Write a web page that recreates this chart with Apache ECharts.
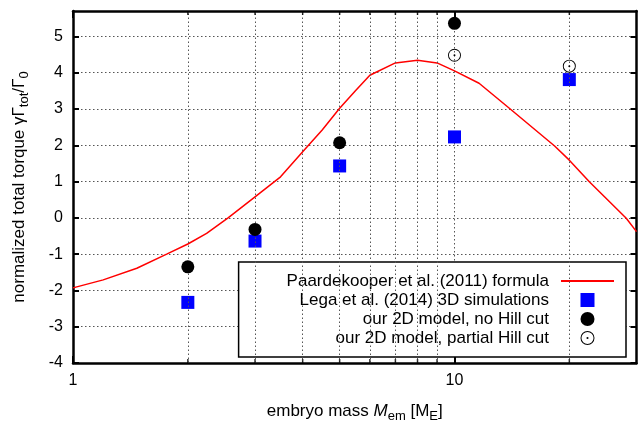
<!DOCTYPE html>
<html>
<head>
<meta charset="utf-8">
<script src="https://cdn.jsdelivr.net/npm/echarts@6/dist/echarts.min.js"></script>
<style>
html,body{margin:0;padding:0;background:#fff;}
#chart{width:638px;height:423px;}
</style>
</head>
<body>
<div id="chart"></div>
<script>
// Paardekooper et al. (2011) formula curve
const curveX = [1, 1.2, 1.47, 1.76, 2, 2.24, 2.55, 3, 3.5, 4, 4.5, 5, 5.5, 6, 7, 8, 9, 10, 11.6, 14, 18.3, 20, 22.6, 28.2, 30];
const curveY = [-1.93, -1.71, -1.39, -1.0, -0.72, -0.43, 0.0, 0.58, 1.13, 1.82, 2.42, 3.02, 3.5, 3.93, 4.27, 4.34, 4.27, 4.05, 3.71, 3.0, 1.98, 1.59, 0.99, -0.01, -0.38];
// Lega et al. (2014) 3D simulations
const legaX = [2, 3, 5, 10, 20];
const legaY = [-2.33, -0.64, 1.43, 2.23, 3.81];
// our 2D model, no Hill cut
const noHillX = [2, 3, 5, 10];
const noHillY = [-1.35, -0.32, 2.07, 5.36];
// our 2D model, partial Hill cut
const partialX = [10, 20];
const partialY = [4.48, 4.18];
// axis ticks / labels
const xMinorValues = [2, 3, 4, 5, 6, 7, 8, 9, 20];
const xMajorValues = [1, 10];
const xLabelValues = [1, 10];
const yTickValues = [-4, -3, -2, -1, 0, 1, 2, 3, 4, 5];
const yMin = -4, yMax = 5.7, xMin = 1, xMax = 30;
const seriesNames = ['Paardekooper et al. (2011) formula', 'Lega et al. (2014) 3D simulations', 'our 2D model, no Hill cut', 'our 2D model, partial Hill cut'];

const zip = (xs, ys) => xs.map((x, i) => [x, ys[i]]);
const FONT = 'Liberation Sans, Arial, Helvetica, sans-serif';
const gridStyle = { color: '#555', width: 1, type: [1.5, 2.5] };
const gridLine = { show: true, lineStyle: gridStyle };
const frameLine = { show: true, onZero: false, lineStyle: { color: '#000', width: 2.5 } };
const ringPath = 'path://M10,0A10,10,0,1,1,-10,0A10,10,0,1,1,10,0ZM8.6,0A8.6,8.6,0,1,0,-8.6,0A8.6,8.6,0,1,0,8.6,0ZM1.5,0A1.5,1.5,0,1,1,-1.5,0A1.5,1.5,0,1,1,1.5,0Z';
const squarePath = 'path://M0,0H10V10H0Z';
const nameRich = {
  a: { fontSize: 17, lineHeight: 24, color: '#000', fontFamily: FONT },
  i: { fontSize: 17, lineHeight: 24, fontStyle: 'italic', color: '#000', fontFamily: FONT },
  s: { fontSize: 13, lineHeight: 13, verticalAlign: 'bottom', color: '#000', fontFamily: FONT }
};

const chart = echarts.init(document.getElementById('chart'));
chart.setOption({
  animation: false,
  backgroundColor: '#fff',
  textStyle: { fontFamily: FONT },
  grid: { left: 73, right: 1.5, top: 11, bottom: 60, containLabel: false, outerBoundsMode: 'none' },
  xAxis: [{
    type: 'log', logBase: 10, min: xMin, max: xMax, position: 'bottom',
    axisLine: frameLine,
    axisTick: { show: true, inside: true, length: 7, lineStyle: { color: '#000', width: 2 }, customValues: xMajorValues },
    axisLabel: { show: true, customValues: xLabelValues, color: '#000', fontSize: 16, fontFamily: FONT, margin: 10 },
    splitLine: gridLine, minorTick: { show: false }, minorSplitLine: { show: false },
    name: '{a|embryo mass }{i|M}{s|em}{a| [M}{s|E}{a|]}',
    nameLocation: 'middle', nameGap: 36,
    nameTextStyle: { color: '#000', fontFamily: FONT, rich: nameRich }
  }, {
    type: 'log', logBase: 10, min: xMin, max: xMax, position: 'top',
    axisLine: frameLine,
    axisTick: { show: true, inside: true, length: 7, lineStyle: { color: '#000', width: 2 }, customValues: xMajorValues },
    axisLabel: { show: false }, splitLine: { show: false }
  }],
  yAxis: [{
    type: 'value', min: yMin, max: yMax, interval: 1, position: 'left',
    axisLine: frameLine,
    axisTick: { show: true, inside: true, length: 6, lineStyle: { color: '#000', width: 2 }, customValues: yTickValues },
    axisLabel: { show: true, customValues: yTickValues, color: '#000', fontSize: 16, fontFamily: FONT, margin: 10 },
    splitLine: gridLine,
    name: '{a|normalized total torque γΓ}{s|tot}{a|/Γ}{s|0}',
    nameLocation: 'middle', nameGap: 42, nameRotate: 90,
    nameTextStyle: { color: '#000', fontFamily: FONT, rich: nameRich }
  }, {
    type: 'value', min: yMin, max: yMax, interval: 1, position: 'right',
    axisLine: frameLine,
    axisTick: { show: true, inside: true, length: 6, lineStyle: { color: '#000', width: 2 }, customValues: yTickValues },
    axisLabel: { show: false }, splitLine: { show: false }
  }],
  legend: {
    orient: 'vertical', align: 'right', right: 12, top: 262,
    backgroundColor: '#fff', borderColor: '#000', borderWidth: 1.5, borderRadius: 0,
    padding: [9.5, 11, 9.5, 48], itemGap: 0, itemWidth: 53, itemHeight: 14,
    textStyle: { color: '#000', fontSize: 17, fontFamily: FONT, lineHeight: 19, padding: [0, 7, 0, 0] },
    data: [
      { name: seriesNames[0], itemStyle: { opacity: 0 } },
      { name: seriesNames[1] },
      { name: seriesNames[2] },
      { name: seriesNames[3] }
    ]
  },
  series: [{
    // minor vertical grid lines (x = 2..9, 20)
    name: 'minor-grid', type: 'line', xAxisIndex: 0, yAxisIndex: 0, data: [], z: 1, silent: true,
    markLine: {
      silent: true, symbol: ['none', 'none'], label: { show: false }, animation: false,
      lineStyle: gridStyle, emphasis: { disabled: true },
      data: xMinorValues.map(v => ({ xAxis: v }))
    }
  }, {
    // minor ticks on bottom frame
    name: 'ticks-bottom', type: 'scatter', xAxisIndex: 0, yAxisIndex: 0, silent: true, z: 6, clip: false,
    data: xMinorValues.map(v => [v, yMin]), symbol: 'rect', symbolSize: [1.5, 4], symbolOffset: [0, -2],
    itemStyle: { color: '#000' }
  }, {
    // minor ticks on top frame
    name: 'ticks-top', type: 'scatter', xAxisIndex: 0, yAxisIndex: 0, silent: true, z: 6, clip: false,
    data: xMinorValues.map(v => [v, yMax]), symbol: 'rect', symbolSize: [1.5, 4], symbolOffset: [0, 2],
    itemStyle: { color: '#000' }
  }, {
    name: seriesNames[0], type: 'line', xAxisIndex: 0, yAxisIndex: 0,
    data: zip(curveX, curveY), showSymbol: false, symbol: 'none', smooth: false,
    lineStyle: { color: '#ff0000', width: 1.5 }, itemStyle: { color: '#ff0000' }, z: 3
  }, {
    name: seriesNames[1], type: 'scatter', xAxisIndex: 0, yAxisIndex: 0,
    data: zip(legaX, legaY), symbol: squarePath, symbolKeepAspect: true, symbolSize: 13,
    itemStyle: { color: '#0000ff', opacity: 1 }, z: 4
  }, {
    name: seriesNames[2], type: 'scatter', xAxisIndex: 0, yAxisIndex: 0,
    data: zip(noHillX, noHillY), symbol: 'circle', symbolSize: 13,
    itemStyle: { color: '#000', opacity: 1 }, z: 5
  }, {
    name: seriesNames[3], type: 'scatter', xAxisIndex: 0, yAxisIndex: 0,
    data: zip(partialX, partialY), symbol: ringPath, symbolKeepAspect: true, symbolSize: 13,
    itemStyle: { color: '#000', opacity: 1 }, z: 5
  }]
});
</script>
</body>
</html>
